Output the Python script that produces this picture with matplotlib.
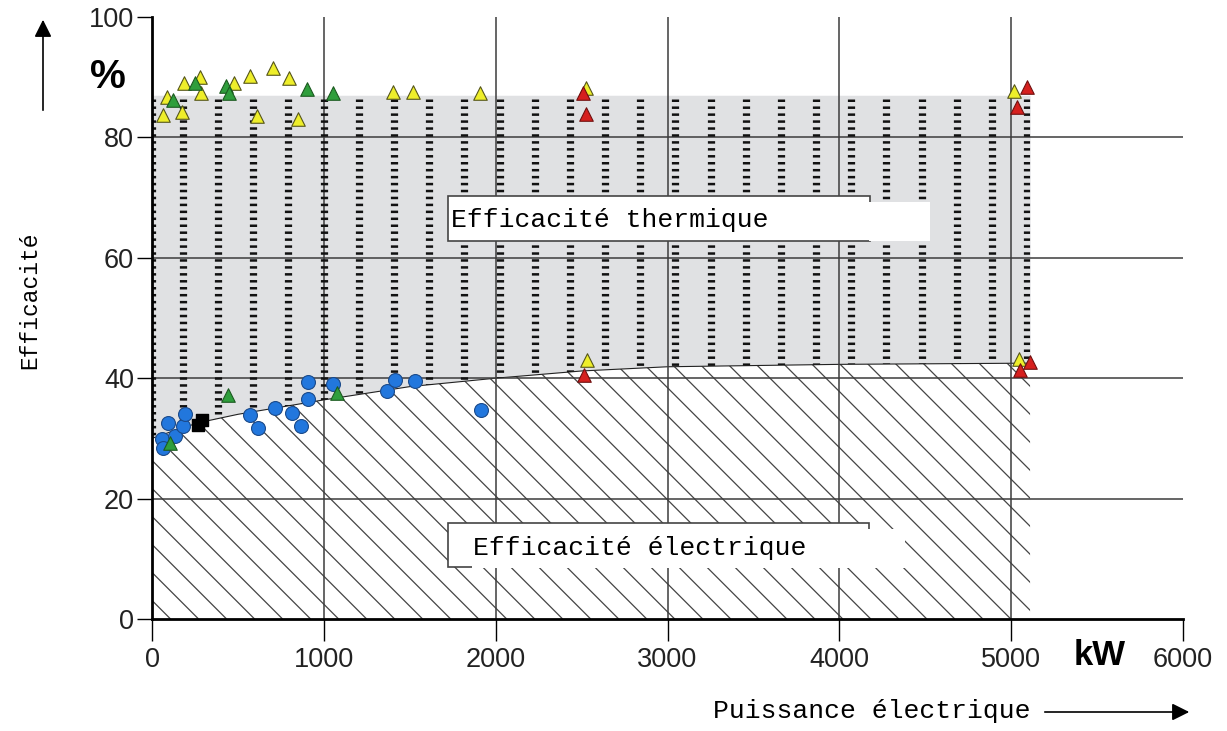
import numpy as np
import matplotlib
matplotlib.use("Agg")
import matplotlib.pyplot as plt
from matplotlib.collections import LineCollection
from matplotlib.patches import Rectangle, Polygon

plt.rcParams['font.family'] = ['Liberation Sans', 'DejaVu Sans']
plt.rcParams['lines.scale_dashes'] = False

# electrical efficiency envelope (lower edge of the grey band)
curve_kw = [0, 100, 270, 500, 1000, 1500, 2000, 2500, 3000, 4000, 5110]
curve_eff = [30.0, 31.0, 32.6, 34.0, 36.4, 38.6, 40.0, 41.2, 41.9, 42.3, 42.5]
thermal_top = 87.0

# measured units
blue_kw = [58, 64, 93, 134, 181, 192, 571, 618, 717, 816, 868, 909, 909, 1055, 1369, 1416, 1533, 1917]
blue_eff = [29.9, 28.4, 32.6, 30.4, 32.0, 34.1, 33.9, 31.7, 35.0, 34.2, 32.0, 39.4, 36.5, 39.0, 37.9, 39.7, 39.5, 34.7]

yellow_kw = [64, 87, 175, 186, 280, 286, 478, 571, 612, 705, 798, 851, 1404, 1521, 1911, 2523, 2529, 5017, 5047]
yellow_eff = [83.7, 86.7, 84.2, 89.0, 90.0, 87.4, 89.0, 90.2, 83.6, 91.5, 89.9, 83.1, 87.5, 87.5, 87.4, 88.2, 43.0, 87.7, 43.2]

green_kw = [123, 250, 431, 449, 903, 1055, 443, 1078, 105]
green_eff = [86.2, 89.0, 88.5, 87.4, 88.0, 87.4, 37.2, 37.5, 29.2]

red_kw = [2506, 2523, 2512, 5093, 5035, 5111, 5053]
red_eff = [87.4, 83.9, 40.5, 88.4, 85.0, 42.7, 41.4]

black_kw = [265, 290]
black_eff = [32.3, 33.0]

xticks = [0, 1000, 2000, 3000, 4000, 5000, 6000]
yticks = [0, 20, 40, 60, 80, 100]

W, H = 1227, 731
fig = plt.figure(figsize=(W / 100, H / 100), dpi=100)
ax = fig.add_axes([152 / W, 1 - 619 / H, (1183 - 152) / W, (619 - 17) / H])
ax.set_xlim(0, 6000)
ax.set_ylim(0, 100)

# grey band (thermal)
ax.fill_between(curve_kw, curve_eff, thermal_top, color='#e0e1e3', lw=0, zorder=1)
band = Polygon(list(zip(curve_kw, curve_eff)) + [(curve_kw[-1], thermal_top), (0, thermal_top)],
               closed=True, fc='none', ec='none', transform=ax.transData)
ax.add_patch(band)

# dashed columns in the band
cols = np.concatenate([[0], np.linspace(180, 5093, 25)])
bottoms = np.interp(cols, curve_kw, curve_eff)
segs = [[(c, thermal_top - 0.6), (c, b)] for c, b in zip(cols, bottoms)]
lc = LineCollection(segs, colors='#111111', linewidths=5.2, linestyles=[(0, (1.8, 3.2))], zorder=2.5)
lc.set_capstyle('butt')
lc.set_clip_path(band)
ax.add_collection(lc)

# hatched area (electrical)
elec = Polygon([(0, 0)] + list(zip(curve_kw, curve_eff)) + [(curve_kw[-1], 0)],
               closed=True, fc='white', ec='none', zorder=1, transform=ax.transData)
ax.add_patch(elec)
bb = ax.get_position()
k = (bb.width * W / 6000) / (bb.height * H / 100)
hsegs = [[(x0, 0), (x0 - 60 / k, 60)] for x0 in np.arange(-2500, 7200, 163)]
hc = LineCollection(hsegs, colors='#444444', linewidths=0.9, zorder=1.5)
hc.set_clip_path(elec)
ax.add_collection(hc)
ax.plot(curve_kw, curve_eff, color='#222222', lw=0.8, zorder=2)

# grid
for x in xticks[1:-1]:
    ax.axvline(x, color='#3c3c3c', lw=1.1, zorder=2)
for y in yticks[1:-1]:
    ax.axhline(y, color='#3c3c3c', lw=1.1, zorder=2)

# markers
ax.scatter(blue_kw, blue_eff, s=100, c='#2277dd', edgecolors='#1b4a8a', linewidths=0.8, zorder=4)
ax.scatter(yellow_kw, yellow_eff, s=95, marker='^', c='#eeee2a', edgecolors='#55551a', linewidths=0.8, zorder=4)
ax.scatter(green_kw, green_eff, s=95, marker='^', c='#2f9e3c', edgecolors='#1c5a20', linewidths=0.8, zorder=4)
ax.scatter(red_kw, red_eff, s=95, marker='^', c='#d6201e', edgecolors='#701010', linewidths=0.8, zorder=4)
ax.scatter(black_kw, black_eff, s=70, marker='s', c='black', zorder=4)

# label boxes
ax.add_patch(Rectangle((1725, 62.8), 4180 - 1725, 70.3 - 62.8, fc='white', ec='#444444', lw=1.2, zorder=5))
ax.add_patch(Rectangle((4170, 62.8), 4530 - 4170, 69.3 - 62.8, fc='white', ec='none', zorder=5.1))
ax.text(1740, 66.3, 'Efficacité thermique', family=['Liberation Mono', 'DejaVu Sans Mono'],
        fontsize=19, va='center', ha='left', zorder=6)

ax.add_patch(Rectangle((1725, 8.6), 4170 - 1725, 16.0 - 8.6, fc='white', ec='#444444', lw=1.2, zorder=5))
ax.add_patch(Rectangle((1860, 8.4), 4385 - 1860, 14.95 - 8.4, fc='white', ec='none', zorder=5.1))
ax.text(1870, 11.8, 'Efficacité électrique', family=['Liberation Mono', 'DejaVu Sans Mono'],
        fontsize=19, va='center', ha='left', zorder=6)

# axes styling
for s in ['top', 'right']:
    ax.spines[s].set_visible(False)
ax.spines['left'].set_linewidth(2)
ax.spines['bottom'].set_linewidth(2)
ax.spines['left'].set_zorder(7)
ax.spines['bottom'].set_zorder(7)
ax.set_xticks(xticks)
ax.set_yticks(yticks)
ax.tick_params(axis='x', length=16, width=1, pad=4, labelsize=19.5, labelcolor='#222222')
ax.tick_params(axis='y', length=11, width=1, pad=2, labelsize=19.5, labelcolor='#222222')

ax.text(-256, 90.0, '%', fontsize=29, fontweight='bold', ha='center', va='center', clip_on=False)
ax.text(5513, -6.0, 'kW', fontsize=25, fontweight='bold', ha='center', va='center', clip_on=False)

fig.text(713 / W, 1 - 711 / H, 'Puissance électrique', family=['Liberation Mono', 'DejaVu Sans Mono'],
         fontsize=19, ha='left', va='center')
fig.text(30 / W, 1 - 300 / H, 'Efficacité', family=['Liberation Mono', 'DejaVu Sans Mono'],
         fontsize=16.5, rotation=90, ha='center', va='center')

ax.annotate('', xy=(1192 / W, 1 - 712 / H), xytext=(1042 / W, 1 - 712 / H),
            xycoords='figure fraction', textcoords='figure fraction',
            arrowprops=dict(arrowstyle='-|>', color='black', lw=1.2, mutation_scale=26))
ax.annotate('', xy=(43 / W, 1 - 17 / H), xytext=(43 / W, 1 - 113 / H),
            xycoords='figure fraction', textcoords='figure fraction',
            arrowprops=dict(arrowstyle='-|>', color='black', lw=1.2, mutation_scale=26))

fig.savefig('out.png', dpi=100)
